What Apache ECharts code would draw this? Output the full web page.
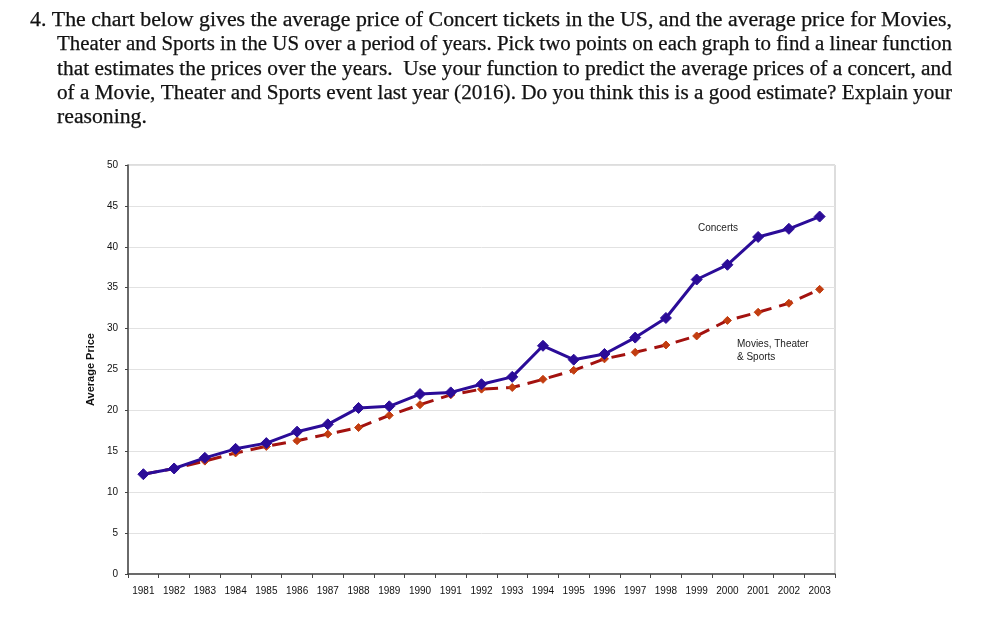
<!DOCTYPE html>
<html>
<head>
<meta charset="utf-8">
<script src="https://cdn.jsdelivr.net/npm/echarts@6/dist/echarts.min.js"></script>
<style>
html,body{margin:0;padding:0;background:#fff;}
#chart{width:990px;height:642px;}
</style>
</head>
<body>
<div id="chart"></div>
<script>
var years = ['1981','1982','1983','1984','1985','1986','1987','1988','1989','1990','1991','1992','1993','1994','1995','1996','1997','1998','1999','2000','2001','2002','2003'];
var concerts = [12.2,12.9,14.2,15.3,16.0,17.4,18.3,20.3,20.5,22.0,22.2,23.2,24.1,27.9,26.2,26.9,28.9,31.3,36.0,37.8,41.2,42.2,43.7];
var movies = [12.2,12.9,13.8,14.8,15.6,16.3,17.1,17.9,19.4,20.7,21.9,22.6,22.8,23.8,24.9,26.3,27.1,28.0,29.1,31.0,32.0,33.1,34.8];
var questionLines = [
  '4. The chart below gives the average price of Concert tickets in the US, and the average price for Movies,',
  'Theater and Sports in the US over a period of years. Pick two points on each graph to find a linear function',
  'that estimates the prices over the years.  Use your function to predict the average prices of a concert, and',
  'of a Movie, Theater and Sports event last year (2016). Do you think this is a good estimate? Explain your',
  'reasoning.'
];
var lineX = [30, 57, 57, 57, 57];
var lineY = [22, 46, 71, 95, 119];
var lineRight = 952;
var qFont = '20.5px "Liberation Serif"';

var ctx = document.createElement('canvas').getContext('2d');
ctx.font = qFont;
var chart = echarts.init(document.getElementById('chart'));
var graphics = questionLines.map(function(t, i){
  var w = ctx.measureText(t).width;
  var sx = (i < questionLines.length - 1) ? (lineRight - lineX[i]) / w : 1.06;
  return {type:'text', x: lineX[i], y: lineY[i] - 12, scaleX: sx,
    style:{text:t, font:qFont, fill:'#111', stroke:'#111', lineWidth:0.25}};
});
graphics.push({type:'text', left:698, top:223, style:{text:'Concerts', font:'10px "Liberation Sans"', fill:'#222'}});
graphics.push({type:'text', left:737, top:338, style:{text:'Movies, Theater\n& Sports', font:'10px "Liberation Sans"', fill:'#222', lineHeight:13}});

chart.setOption({
  animation:false,
  graphic: graphics,
  grid:{left:128, right:155, top:165, bottom:68, show:true, borderColor:'#bbb', borderWidth:1},
  xAxis:{type:'category', data:years, boundaryGap:true,
    axisLine:{lineStyle:{color:'#444', width:1.5}},
    axisTick:{show:true, length:4, lineStyle:{color:'#444'}},
    axisLabel:{color:'#111', fontSize:10, fontFamily:'Liberation Sans', margin:12}},
  yAxis:{type:'value', min:0, max:50, interval:5,
    name:'Average Price', nameLocation:'middle', nameGap:28,
    nameTextStyle:{fontWeight:'bold', fontSize:11, fontFamily:'Liberation Sans', color:'#111'},
    axisLine:{show:true, lineStyle:{color:'#444', width:1.5}},
    axisTick:{show:true, length:3, lineStyle:{color:'#444'}},
    axisLabel:{color:'#111', fontSize:10, fontFamily:'Liberation Sans', margin:10},
    splitLine:{lineStyle:{color:'#e2e2e2', width:1}}},
  series:[
    {name:'Movies, Theater & Sports', type:'line', data:movies, symbol:'diamond', symbolSize:8,
      lineStyle:{color:'#a3120f', width:3, type:[14,8]},
      itemStyle:{color:'#c23d10', borderColor:'#c23d10'}, z:2},
    {name:'Concerts', type:'line', data:concerts, symbol:'diamond', symbolSize:11,
      lineStyle:{color:'#2b0c98', width:3},
      itemStyle:{color:'#2b0c98', borderColor:'#2b0c98'}, z:3}
  ]
});
</script>
</body>
</html>
